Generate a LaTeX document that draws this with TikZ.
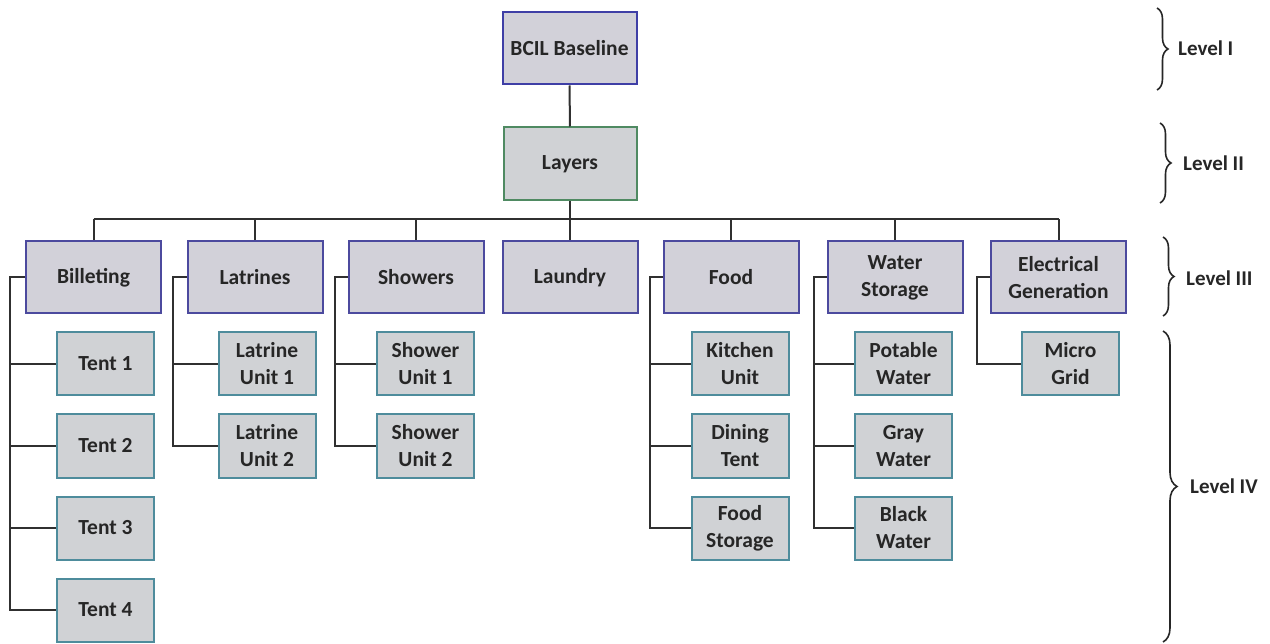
\documentclass[tikz,border=0pt]{standalone}
\usepackage{fontspec}
\setmainfont{Carlito}
\usetikzlibrary{decorations.pathreplacing}
\definecolor{boxfill}{HTML}{D2D1D9}
\definecolor{leaffill}{HTML}{D0D2D5}
\definecolor{topborder}{HTML}{3F3FA6}
\definecolor{midborder}{HTML}{4F8A62}
\definecolor{catborder}{HTML}{4C4A9E}
\definecolor{leafborder}{HTML}{4E8C9C}
\definecolor{ink}{HTML}{262626}
\definecolor{wire}{HTML}{303030}
\tikzset{
  every node/.style={text=ink, font=\bfseries\fontsize{21.5}{27}\selectfont, align=center, inner sep=0pt},
  rootbox/.style={draw=topborder, fill=boxfill, line width=2pt, minimum width=134pt, minimum height=72pt},
  layerbox/.style={draw=midborder, fill=leaffill, line width=2pt, minimum width=133pt, minimum height=73pt},
  catbox/.style={draw=catborder, fill=boxfill, line width=2pt, minimum width=135pt, minimum height=72pt},
  leafbox/.style={draw=leafborder, fill=leaffill, line width=2pt, minimum width=97pt, minimum height=63pt},
  wireline/.style={draw=wire, line width=2pt},
  levelbrace/.style={draw=ink, line width=1.6pt, decorate, decoration={brace, amplitude=11pt}},
  levellabel/.style={anchor=west, font=\bfseries\fontsize{21}{24}\selectfont}
}
\begin{document}
\begin{tikzpicture}[x=1pt, y=-1pt]
\useasboundingbox (0,0) rectangle (1270,644);

% top of the hierarchy
\node[rootbox] (root) at (569.5,48.5) {BCIL Baseline};
\node[layerbox] (layers) at (570,164) {Layers};

% level III categories
\node[catbox] (bill) at (93.5,277.5) {Billeting};
\node[catbox] (latr) at (255,277.5) {Latrines};
\node[catbox] (show) at (416,277.5) {Showers};
\node[catbox] (laun) at (570,277.5) {Laundry};
\node[catbox] (food) at (731,277.5) {Food};
\node[catbox] (water) at (895,277.5) {Water\\Storage};
\node[catbox] (elec) at (1058.5,277.5) {Electrical\\Generation};

% level IV items
\node[leafbox] (t1) at (105.5,364) {Tent 1};
\node[leafbox] (t2) at (105.5,446) {Tent 2};
\node[leafbox] (t3) at (105.5,528) {Tent 3};
\node[leafbox] (t4) at (105.5,610) {Tent 4};
\node[leafbox] (lu1) at (267,364) {Latrine\\Unit 1};
\node[leafbox] (lu2) at (267,446) {Latrine\\Unit 2};
\node[leafbox] (su1) at (425.5,364) {Shower\\Unit 1};
\node[leafbox] (su2) at (425.5,446) {Shower\\Unit 2};
\node[leafbox] (ku) at (740,364) {Kitchen\\Unit};
\node[leafbox] (dt) at (740,446) {Dining\\Tent};
\node[leafbox] (fs) at (740,528) {Food\\Storage};
\node[leafbox] (pw) at (903.5,364) {Potable\\Water};
\node[leafbox] (gw) at (903.5,446) {Gray\\Water};
\node[leafbox] (bw) at (903.5,528) {Black\\Water};
\node[leafbox] (mg) at (1070.5,364) {Micro\\Grid};

% trunk and bus
\draw[wireline] (root.south) -- (layers.north);
\coordinate (busL) at (93.5,219);
\coordinate (busR) at (1058.5,219);
\draw[wireline] (layers.south) -- (layers.south |- busL);
\draw[wireline] (busL) -- (busR);
\foreach \c in {bill,latr,show,laun,food,water,elec}
  \draw[wireline] (\c.north |- busL) -- (\c.north);

% side rails from each category to its items
\coordinate (rb) at (10,277.5);
\coordinate (rl) at (173,277.5);
\coordinate (rs) at (335,277.5);
\coordinate (rf) at (650,277.5);
\coordinate (rw) at (814,277.5);
\coordinate (re) at (977,277.5);
\draw[wireline] (bill.west) -- (rb) |- (t4.west);
\foreach \k in {t1,t2,t3} \draw[wireline] (rb) |- (\k.west);
\draw[wireline] (latr.west) -- (rl) |- (lu2.west);
\draw[wireline] (rl) |- (lu1.west);
\draw[wireline] (show.west) -- (rs) |- (su2.west);
\draw[wireline] (rs) |- (su1.west);
\draw[wireline] (food.west) -- (rf) |- (fs.west);
\foreach \k in {ku,dt} \draw[wireline] (rf) |- (\k.west);
\draw[wireline] (water.west) -- (rw) |- (bw.west);
\foreach \k in {pw,gw} \draw[wireline] (rw) |- (\k.west);
\draw[wireline] (elec.west) -- (re) |- (mg.west);

% level braces
\draw[levelbrace] (1157,8) -- (1157,90);
\node[levellabel] (l1) at (1178,48) {Level I};
\draw[levelbrace] (1160,123) -- (1160,203);
\node[levellabel] (l2) at (1183,163) {Level II};
\draw[levelbrace] (1163,237) -- (1163,316);
\node[levellabel] (l3) at (1186,278) {Level III};
\draw[levelbrace, decoration={brace, amplitude=14pt}] (1163,331) -- (1163,642);
\node[levellabel] (l4) at (1190,486) {Level IV};
\end{tikzpicture}
\end{document}
